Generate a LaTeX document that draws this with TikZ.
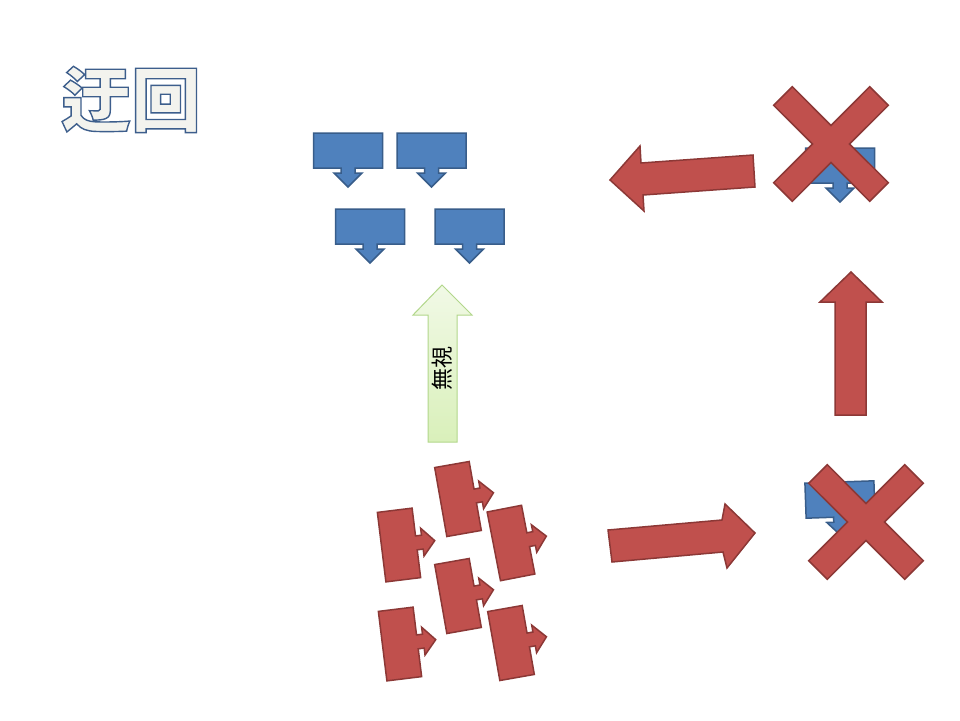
\documentclass[tikz,border=0pt]{standalone}
\usepackage{fontspec}
\newfontfamily\jpfont{Noto Sans CJK JP}
\definecolor{tabred}{HTML}{C0504D}
\definecolor{tabredline}{HTML}{8C3836}
\definecolor{tabblue}{HTML}{4F81BD}
\definecolor{tabblueline}{HTML}{385D8A}
\definecolor{titlefill}{HTML}{F3F3EE}
\definecolor{skiptop}{HTML}{F1F9E6}
\definecolor{skipbottom}{HTML}{D9F0BA}
\definecolor{skipline}{HTML}{B2D78B}
% outlined title text (fill, then stroke)
\newcommand\outlined[1]{\special{pdf:code 0.24 0.37 0.55 RG 1.4 w 2 Tr}#1\special{pdf:code 0 Tr}}

\tikzset{
  redshape/.style={fill=tabred, draw=tabredline, line width=1.5pt},
  blueshape/.style={fill=tabblue, draw=tabblueline, line width=1.5pt},
  downtab/.pic={%
    \draw[blueshape] (-34.5,-17.5) -- (34.5,-17.5) -- (34.5,17.5) -- (7,17.5)
      -- (7,22.5) -- (14,22.5) -- (0,36.5) -- (-14,22.5) -- (-7,22.5)
      -- (-7,17.5) -- (-34.5,17.5) -- cycle;},
  righttab/.pic={%
    \draw[redshape] (-17.5,-35) -- (17.5,-35) -- (17.5,-7) -- (23.5,-7)
      -- (23.5,-14) -- (36,0) -- (23.5,14) -- (23.5,7) -- (17.5,7)
      -- (17.5,35) -- (-17.5,35) -- cycle;},
  cross/.pic={%
    \draw[redshape] (-38.7,-57.3) -- (0,-18.5) -- (38.7,-57.3) -- (57.3,-38.7)
      -- (18.5,0) -- (57.3,38.7) -- (38.7,57.3) -- (0,18.5) -- (-38.7,57.3)
      -- (-57.3,38.7) -- (-18.5,0) -- (-57.3,-38.7) -- cycle;}
}

\begin{document}
\begin{tikzpicture}[x=1pt, y=-1pt, line join=miter]
  \useasboundingbox[fill=white] (0,0) rectangle (960,720);

  % title
  \node (title) [text=titlefill] at (131,99.5) {\jpfont\bfseries\fontsize{70}{70}\selectfont\outlined{迂回}};

  % blue group
  \foreach \nm/\px/\py in {b1/348/150.5, b2/431.5/150.5, b3/370/226.5, b4/469.5/226.5}{%
    \pic (\nm) at (\px,\py) {downtab};}

  % skipping arrow
  \draw[skipline, line width=1pt, top color=skiptop, bottom color=skipbottom]
    (442,285) -- (472,315) -- (457,315) -- (457,442) -- (428,442)
    -- (428,315) -- (413,315) -- cycle;
  \node (skip) [rotate=90] at (442,368) {\jpfont\fontsize{22}{22}\selectfont 無視};

  % red group
  \foreach \nm/\px/\py/\ang in {ra/458/499/10, rb/399/545/7, rc/511/543/11,
                               rd/458/596/10, re/400/644/7, rf/511/643/10}{%
    \pic[rotate=\ang] (\nm) at (\px,\py) {righttab};}

  % detour
  \draw[redshape] (608,530) -- (722,520) -- (725,504) -- (755,533)
    -- (727,568) -- (723,552) -- (612,562) -- cycle;
  \pic[rotate=2] (bx) at (840,499.5) {downtab};
  \pic (xlow) at (866,522) {cross};
  \draw[redshape] (851,272) -- (882,302) -- (866,302) -- (866,415)
    -- (835,415) -- (835,302) -- (820,302) -- cycle;
  \pic (bt) at (840,165.5) {downtab};
  \pic (xtop) at (831,144) {cross};
  \draw[redshape] (610,180) -- (640,146) -- (641,163) -- (753,155)
    -- (755,187) -- (643,195) -- (644,211) -- cycle;
\end{tikzpicture}
\end{document}
